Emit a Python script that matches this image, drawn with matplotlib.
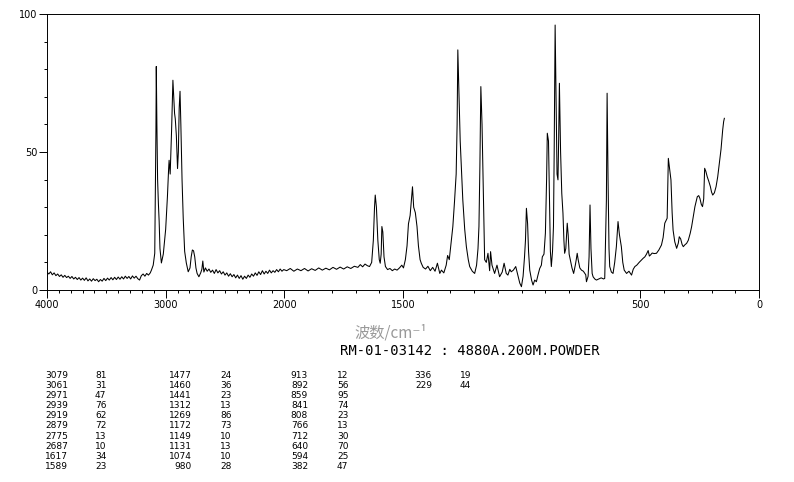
import matplotlib
matplotlib.use('Agg')
import matplotlib.pyplot as plt
import numpy as np
from matplotlib import font_manager

# Raman spectrum (wavenumber cm-1, intensity)
spec_wn = [4000, 3985, 3970, 3955, 3940, 3925, 3910, 3895, 3880, 3865, 3850, 3835, 3820, 3805, 3790, 3775,
           3760, 3745, 3730, 3715, 3700, 3685, 3670, 3655, 3640, 3625, 3610, 3595, 3580, 3565, 3550, 3535,
           3520, 3505, 3490, 3475, 3460, 3445, 3430, 3415, 3400, 3385, 3370, 3355, 3340, 3325, 3310, 3295,
           3280, 3265, 3250, 3235, 3220, 3205, 3190, 3175, 3160, 3145, 3130, 3120, 3105, 3092, 3086, 3082,
           3079, 3074, 3068, 3061, 3055, 3048, 3036, 3020, 3000, 2985, 2975, 2971, 2962, 2950, 2939, 2932,
           2925, 2919, 2910, 2900, 2893, 2886, 2879, 2872, 2862, 2852, 2840, 2826, 2810, 2795, 2785, 2775,
           2765, 2755, 2745, 2735, 2720, 2705, 2695, 2687, 2678, 2665, 2650, 2635, 2620, 2605, 2590, 2575,
           2560, 2545, 2530, 2515, 2500, 2485, 2470, 2455, 2440, 2425, 2410, 2395, 2380, 2365, 2350, 2335,
           2320, 2305, 2290, 2275, 2260, 2245, 2230, 2215, 2200, 2185, 2170, 2155, 2140, 2125, 2110, 2095,
           2080, 2065, 2050, 2035, 2020, 2005, 1990, 1975, 1960, 1945, 1930, 1915, 1900, 1885, 1870, 1855,
           1840, 1825, 1810, 1795, 1780, 1765, 1750, 1735, 1720, 1705, 1690, 1680, 1670, 1660, 1650, 1641,
           1632, 1625, 1620, 1617, 1612, 1606, 1600, 1596, 1592, 1589, 1585, 1580, 1574, 1565, 1555, 1545,
           1535, 1525, 1515, 1505, 1498, 1490, 1483, 1477, 1470, 1465, 1460, 1455, 1448, 1441, 1435, 1428,
           1423, 1415, 1405, 1395, 1385, 1375, 1365, 1355, 1345, 1338, 1328, 1318, 1312, 1305, 1296, 1290,
           1283, 1276, 1272, 1269, 1264, 1259, 1253, 1248, 1240, 1233, 1225, 1219, 1208, 1198, 1190, 1184,
           1180, 1176, 1172, 1167, 1163, 1159, 1156, 1149, 1142, 1135, 1131, 1125, 1114, 1104, 1093, 1082,
           1074, 1065, 1058, 1050, 1044, 1035, 1025, 1015, 1008, 1001, 994, 988, 984, 980, 975, 971,
           966, 958, 952, 945, 938, 931, 924, 917, 913, 906, 900, 895, 892, 887, 883, 879,
           875, 870, 866, 863, 859, 855, 851, 847, 844, 841, 836, 831, 826, 822, 819, 814,
           808, 804, 800, 795, 788, 781, 774, 770, 766, 762, 755, 748, 740, 730, 727, 720,
           716, 712, 708, 703, 699, 692, 685, 675, 665, 655, 650, 646, 643, 640, 636, 632,
           629, 622, 615, 608, 601, 594, 588, 580, 574, 568, 558, 548, 537, 530, 523, 515,
           505, 495, 488, 481, 474, 467, 462, 457, 450, 442, 432, 422, 411, 404, 397, 390,
           387, 382, 377, 371, 366, 362, 355, 347, 340, 336, 330, 324, 319, 312, 305, 298,
           290, 284, 277, 270, 265, 260, 254, 249, 243, 238, 233, 229, 224, 218, 212, 205,
           200, 195, 188, 181, 174, 167, 160, 153, 149, 146]
spec_int = [6.5, 5.8, 6.6, 5.5, 6.2, 5.2, 5.8, 4.9, 5.5, 4.6, 5.3, 4.5, 5.0, 4.2, 4.9, 4.0,
            4.6, 3.8, 4.5, 3.6, 4.3, 3.5, 4.4, 3.3, 4.0, 3.2, 4.1, 3.4, 3.9, 3.0, 3.8, 3.2,
            4.2, 3.4, 4.3, 3.6, 4.5, 3.7, 4.6, 3.8, 4.7, 3.9, 4.8, 4.0, 5.0, 4.2, 4.9, 4.0,
            5.1, 4.3, 5.0, 4.1, 3.6, 5.2, 5.8, 5.0, 6.0, 5.4, 6.2, 7.2, 9.0, 13.3, 40.0, 58.0,
            81.0, 60.0, 40.0, 31.0, 25.0, 15.0, 9.8, 13.0, 22.0, 34.0, 44.0, 47.0, 42.0, 58.0, 76.0, 70.0,
            64.0, 62.0, 56.0, 44.0, 50.0, 66.0, 72.0, 60.0, 40.0, 26.0, 14.0, 9.8, 6.6, 8.0, 12.0, 14.5,
            14.2, 12.0, 8.0, 6.0, 4.8, 6.2, 7.5, 10.5, 6.5, 8.0, 6.8, 7.6, 6.4, 7.2, 6.0, 7.4,
            6.2, 7.0, 5.8, 6.6, 5.4, 6.2, 5.0, 5.9, 4.8, 5.6, 4.4, 5.4, 4.2, 5.2, 3.9, 5.0,
            4.2, 5.4, 4.6, 5.8, 5.0, 6.2, 5.3, 6.6, 5.6, 7.0, 5.8, 6.8, 6.0, 7.2, 6.2, 7.0,
            6.4, 7.4, 6.6, 7.6, 6.8, 7.4, 7.0, 7.8, 6.8, 7.6, 7.0, 7.8, 6.9, 7.7, 7.1, 8.0,
            7.2, 7.9, 7.3, 8.2, 7.5, 8.3, 7.6, 8.4, 7.8, 8.6, 8.2, 9.2, 8.4, 9.4, 8.8, 8.5,
            10.0, 18.0, 30.0, 34.4, 30.0, 18.0, 11.0, 9.7, 13.0, 23.0, 21.0, 12.0, 8.5, 7.4, 7.8, 7.0,
            7.6, 7.2, 8.0, 9.0, 8.0, 11.0, 16.0, 24.0, 27.0, 32.0, 37.4, 30.0, 28.0, 23.0, 16.0, 11.0,
            9.7, 8.2, 7.6, 8.6, 7.0, 8.2, 6.8, 9.7, 6.0, 7.2, 6.2, 9.0, 12.5, 11.0, 18.0, 23.0,
            32.0, 42.0, 60.0, 87.0, 70.0, 54.0, 42.0, 32.6, 22.0, 15.7, 11.0, 8.5, 6.8, 6.0, 9.0, 15.0,
            23.0, 45.0, 73.7, 60.0, 42.0, 22.0, 11.0, 10.0, 13.3, 7.0, 13.9, 9.0, 6.0, 9.0, 4.8, 6.5,
            9.7, 6.0, 5.4, 7.5, 6.6, 7.2, 8.5, 5.0, 2.5, 1.2, 5.0, 12.0, 18.0, 29.6, 24.0, 14.0,
            7.2, 3.5, 1.8, 3.6, 3.0, 5.5, 7.8, 9.0, 12.0, 13.0, 20.6, 40.0, 56.8, 54.0, 35.0, 14.0,
            8.5, 14.0, 23.0, 50.0, 96.0, 70.0, 42.0, 39.9, 55.0, 74.9, 50.0, 35.0, 27.8, 18.0, 13.3, 15.0,
            24.2, 20.0, 13.0, 10.9, 8.0, 6.0, 9.0, 11.0, 13.3, 11.0, 8.0, 7.2, 6.8, 5.5, 3.0, 5.0,
            12.0, 30.8, 15.0, 6.0, 4.8, 4.0, 3.6, 4.0, 4.4, 4.0, 4.2, 20.0, 32.6, 71.3, 40.0, 15.0,
            8.5, 6.5, 6.0, 10.0, 15.7, 24.8, 20.0, 15.7, 10.0, 7.2, 6.0, 6.8, 5.4, 7.5, 8.5, 9.0,
            10.0, 10.9, 11.5, 12.0, 13.0, 14.3, 12.3, 12.7, 13.4, 13.2, 13.3, 14.5, 16.3, 19.0, 24.2, 25.5,
            26.0, 47.7, 44.0, 39.9, 28.0, 21.7, 17.5, 15.1, 17.0, 19.3, 18.5, 16.5, 15.7, 16.4, 16.9, 18.0,
            20.5, 22.9, 26.5, 30.2, 32.0, 33.8, 34.2, 33.2, 31.0, 30.2, 33.0, 44.1, 43.0, 41.0, 39.5, 37.5,
            35.5, 34.4, 35.2, 37.4, 41.0, 45.9, 51.0, 58.0, 61.0, 62.2]

# peak table printed under the chart
peak_wn = [3079, 3061, 2971, 2939, 2919, 2879, 2775, 2687, 1617, 1589,
           1477, 1460, 1441, 1312, 1269, 1172, 1149, 1131, 1074, 980,
           913, 892, 859, 841, 808, 766, 712, 640, 594, 382,
           336, 229]
peak_int = [81, 31, 47, 76, 62, 72, 13, 10, 34, 23,
            24, 36, 23, 13, 86, 73, 10, 13, 10, 28,
            12, 56, 95, 74, 23, 13, 30, 70, 25, 47,
            19, 44]

x_major = [4000, 3000, 2000, 1500, 500, 0]
y_major = [0, 50, 100]

installed = {f.name for f in font_manager.fontManager.ttflist}
narrow = 'Liberation Sans Narrow' if 'Liberation Sans Narrow' in installed else 'DejaVu Sans'


def fwd(x):
    x = np.asarray(x, dtype=float)
    return np.where(x > 2000, 2000 + (x - 2000) / 2.0, x)


def inv(y):
    y = np.asarray(y, dtype=float)
    return np.where(y > 2000, 2000 + (y - 2000) * 2.0, y)


fig = plt.figure(figsize=(7.94, 4.82), dpi=100)
ax = fig.add_axes([47 / 794, 1 - 290 / 482, (759 - 47) / 794, (290 - 14) / 482])

ax.plot(spec_wn, spec_int, color='black', linewidth=0.75)

ax.set_xscale('function', functions=(fwd, inv))
ax.set_xlim(4000, 0)
ax.set_ylim(0, 100)

ax.set_xticks(x_major)
ax.set_xticks([v for v in range(0, 4001, 100) if v not in x_major], minor=True)
ax.set_yticks(y_major)
ax.set_yticks([v for v in range(0, 101, 10) if v not in y_major], minor=True)
ax.set_xticklabels([str(v) for v in x_major], fontsize=7, family=narrow)
ax.set_yticklabels([str(v) for v in y_major], fontsize=7, family=narrow)
ax.tick_params(which='major', direction='out', length=6, width=0.7, pad=1)
ax.tick_params(which='minor', direction='out', length=2.5, width=0.7)
for s in ax.spines.values():
    s.set_linewidth(0.7)

fig.text(391 / 794, 1 - 333 / 482, '波数/cm⁻¹', ha='center', va='center', fontsize=11,
         color='#999999', family=['Noto Sans CJK SC', 'DejaVu Sans'])
fig.text(340 / 794, 1 - 351 / 482, 'RM-01-03142 : 4880A.200M.POWDER', ha='left', va='center',
         fontsize=10, family='DejaVu Sans Mono')

# peak list in four columns of ten rows
col_wn_right = [68, 192, 308, 432]
col_int_left = [95, 220, 337, 460]
for i, (w, v) in enumerate(zip(peak_wn, peak_int)):
    col, row = divmod(i, 10)
    yy = 1 - (375.5 + row * 10.1) / 482
    fig.text(col_wn_right[col] / 794, yy, str(w), ha='right', va='center', fontsize=6.5, family=narrow)
    fig.text(col_int_left[col] / 794, yy, str(v), ha='left', va='center', fontsize=6.5, family=narrow)

fig.savefig('out.png', dpi=100)
